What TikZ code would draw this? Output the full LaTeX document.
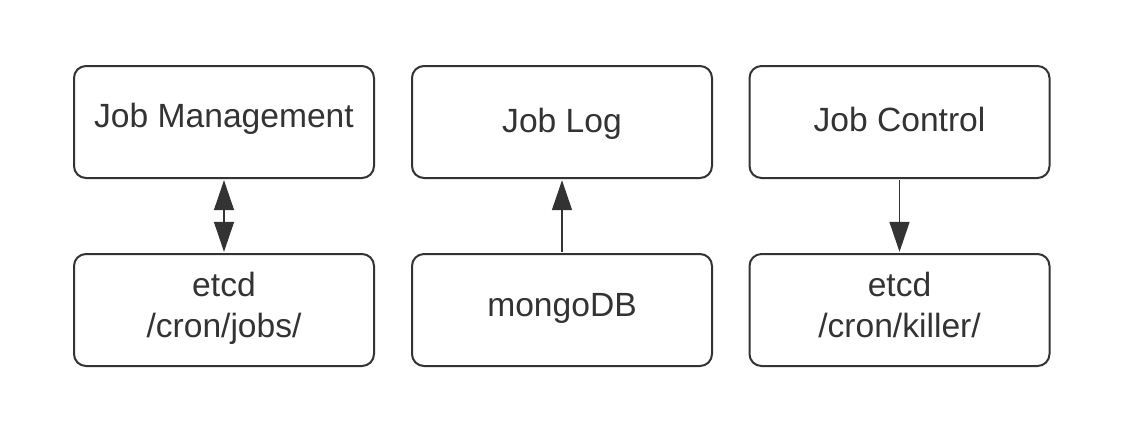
\documentclass[tikz,border=0pt]{standalone}
\usepackage{fontspec}
\setmainfont{Liberation Sans}
\usetikzlibrary{arrows.meta}
\definecolor{ink}{HTML}{333333}
\tikzset{
  box/.style={draw=ink, line width=1pt, rounded corners=6pt, minimum width=150pt,
    minimum height=56pt, inner sep=0pt, align=center, text=ink,
    font=\fontsize{16.8pt}{20.6pt}\selectfont, text height=12pt},
  conn/.style={draw=ink, line width=0.75pt, shorten >=0.6pt, shorten <=0.6pt},
  tipx/.style={-{Triangle[length=15pt,width=10pt]}},
  tipxx/.style={{Triangle[length=15pt,width=10pt]}-{Triangle[length=15pt,width=10pt]}}
}
\begin{document}
\begin{tikzpicture}[x=0.5pt,y=-0.5pt]
\useasboundingbox (0,0) rectangle (1127,441);
\node[box, text depth=6.7pt] (jm) at (224,122) {Job Management};
\node[box, text depth=1.3pt] (jl) at (562,122) {Job Log};
\node[box, text depth=2.3pt] (jc) at (899.5,122) {Job Control};
\node[box, text height=30pt, text depth=2.8pt] (ej) at (224,310) {etcd\\/cron/jobs/};
\node[box, text depth=5.3pt] (mg) at (562,310) {mongoDB};
\node[box, text height=30pt, text depth=2.8pt] (ek) at (899.5,310) {etcd\\/cron/killer/};
\draw[conn, tipxx] (jm.south) -- (ej.north);
\draw[conn, tipx] (mg.north) -- (jl.south);
\draw[conn, tipx] (jc.south) -- (ek.north);
\end{tikzpicture}
\end{document}
